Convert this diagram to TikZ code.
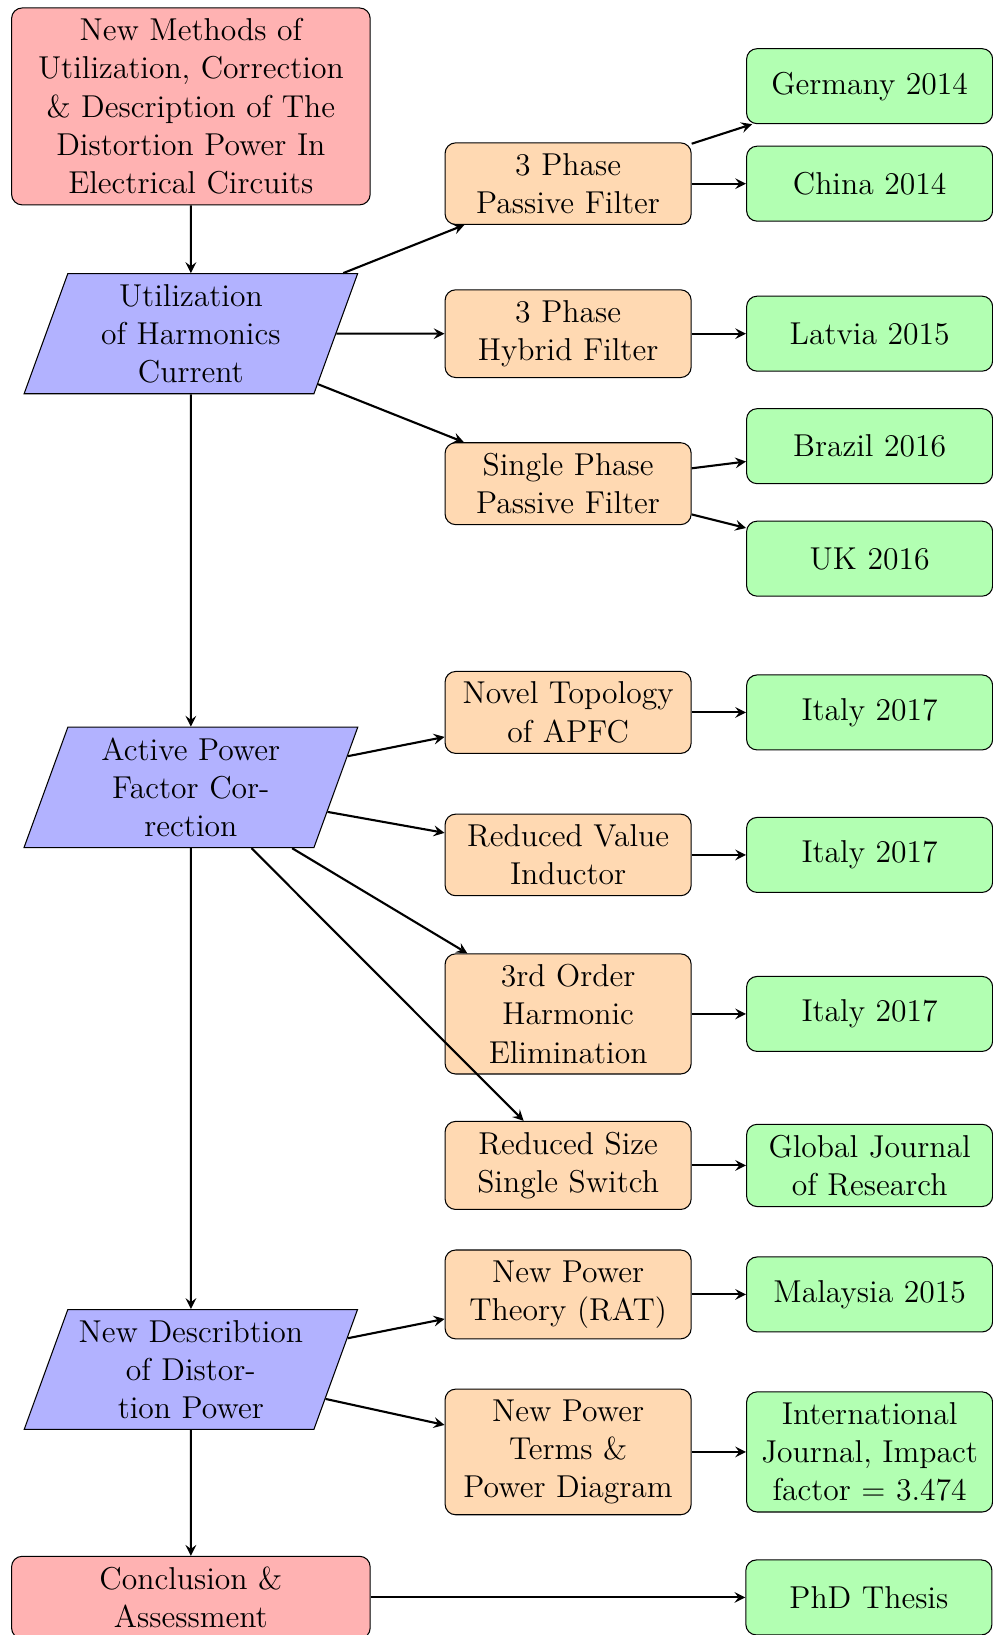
\documentclass[tikz,border=0pt,12pt]{standalone}
\usepackage{amsmath}
\usetikzlibrary{arrows,shapes.geometric}

\begin{document}
\begin{tikzpicture}[->,>=stealth,auto,node distance=3cm]
          \tikzstyle{startstop}=[rectangle,rounded corners,text width=4.5cm,minimum height=1cm,text centered,draw=black,fill=red!30]
          \tikzstyle{io}=[trapezium,trapezium left angle=70,trapezium right angle=110,text width=3cm,minimum height=1cm,text centered,draw=black,fill=blue!30]
          \tikzstyle{process}=[rectangle,rounded corners,text width=3cm,minimum height=1cm,text centered,draw=black,fill=orange!30]
          \tikzstyle{result}=[rectangle,rounded corners,text width=3cm,minimum height=1cm,text centered,draw=black,fill=green!30]
          \useasboundingbox (0,0) rectangle (13.227,-21.8);

          \node[startstop] (start) at (2.545,-1.419) {New Methods of Utilization, Correction \& Description of The Distortion Power In Electrical Circuits};
          \node[io]        (io1) [below of=start,node distance=3.03cm] {Utilization of Harmonics Current};
          \node[io]        (io2) [below of=io1,node distance=6.05cm]   {Active Power Factor Correction};
          \node[io]        (io3) [below of=io2,node distance=7.76cm]   {New Describtion of Distortion Power};
          \node[startstop] (stop) [below of=io3,node distance=3.04cm]  {Conclusion \& Assessment};

          \node[process] (p2) [right of=io1,node distance=5.03cm]    {3 Phase Hybrid Filter};
          \node[process] (p1) [above of=p2,node distance=2cm]        {3 Phase Passive Filter};
          \node[process] (p3) [below of=p2,node distance=2cm]        {Single Phase Passive Filter};
          \node[process] (p4) [right of=io2,node distance=5.03cm,yshift=1cm] {Novel Topology of APFC};
          \node[process] (p5) [below of=p4,node distance=1.9cm]      {Reduced Value Inductor};
          \node[process] (p6) [below of=p5,node distance=2.12cm]     {3rd Order Harmonic Elimination};
          \node[process] (p7) [below of=p6,node distance=2.02cm]     {Reduced Size Single Switch};
          \node[process] (p8) [right of=io3,node distance=5.03cm,yshift=1cm]    {New Power Theory (RAT)};
          \node[process] (p9) [right of=io3,node distance=5.03cm,yshift=-1.1cm] {New Power Terms \& Power Diagram};

          \node[result] (g1)  [right of=p1,node distance=4.02cm,yshift=1.3cm]  {Germany 2014};
          \node[result] (g2)  [right of=p1,node distance=4.02cm]               {China 2014};
          \node[result] (g3)  [right of=p2,node distance=4.02cm]               {Latvia 2015};
          \node[result] (g4)  [right of=p3,node distance=4.02cm,yshift=0.5cm]  {Brazil 2016};
          \node[result] (g5)  [right of=p3,node distance=4.02cm,yshift=-1cm]   {UK 2016};
          \node[result] (g6)  [right of=p4,node distance=4.02cm]               {Italy 2017};
          \node[result] (g7)  [right of=p5,node distance=4.02cm]               {Italy 2017};
          \node[result] (g8)  [right of=p6,node distance=4.02cm]               {Italy 2017};
          \node[result] (g9)  [right of=p7,node distance=4.02cm]               {Global Journal of Research};
          \node[result] (g10) [right of=p8,node distance=4.02cm]               {Malaysia 2015};
          \node[result] (g11) [right of=p9,node distance=4.02cm]               {International Journal, Impact factor = 3.474};
          \node[result] (g12) [right of=stop,node distance=9.04cm]             {PhD Thesis};

          \path[thick] (start) edge (io1)
                (io1) edge (p1)
                      edge (p2)
                      edge (p3)
                      edge (io2)
                (p1) edge (g1)
                     edge (g2)
                (p2) edge (g3)
                (p3) edge (g4)
                     edge (g5)
                (io2) edge (p4)
                      edge (p5)
                      edge (p6)
                      edge (p7)
                      edge (io3)
                (p4) edge (g6)
                (p5) edge (g7)
                (p6) edge (g8)
                (p7) edge (g9)
                (io3) edge (p8)
                      edge (p9)
                      edge (stop)
                (p8) edge (g10)
                (p9) edge (g11)
                (stop) edge (g12);
        \end{tikzpicture}
\end{document}
